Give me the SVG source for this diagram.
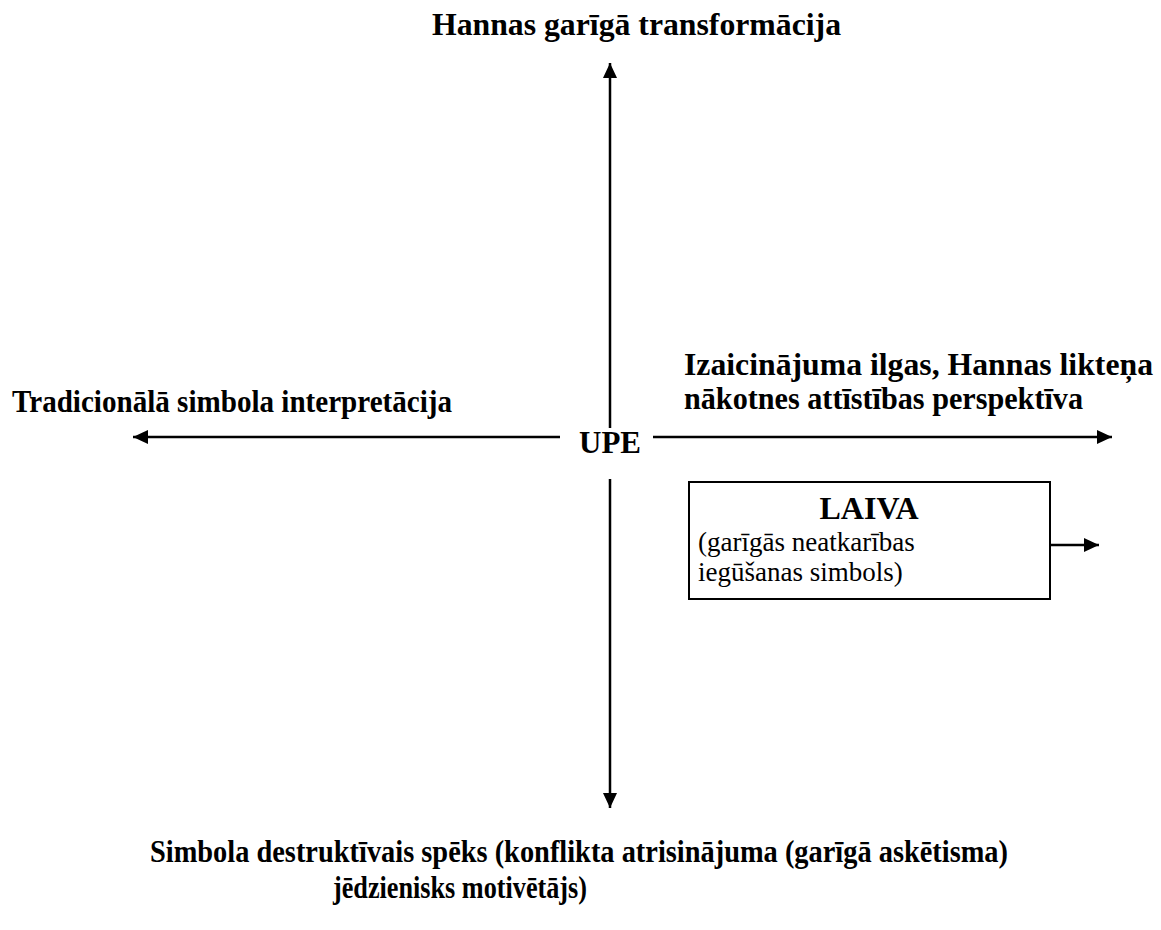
<svg xmlns="http://www.w3.org/2000/svg" width="1161" height="930" viewBox="0 0 1161 930">
<style>
.b{font-family:"Liberation Serif","Times New Roman",serif;font-weight:bold;font-size:32px;fill:#000}
.n{font-family:"Liberation Serif","Times New Roman",serif;font-size:27px;fill:#000}
.ln{stroke:#000;stroke-width:2.5;fill:none}
</style>
<defs>
<marker id="ah" markerWidth="15" markerHeight="14" refX="15" refY="7" orient="auto" markerUnits="userSpaceOnUse"><path d="M0,0 L15,7 L0,14 Z" fill="#000"/></marker>
</defs>
<rect width="1161" height="930" fill="#fff"/>
<g id="connectors">
<line class="ln" x1="610" y1="428" x2="610" y2="63" marker-end="url(#ah)"/>
<line class="ln" x1="610" y1="479" x2="610" y2="808" marker-end="url(#ah)"/>
<line class="ln" x1="560" y1="437" x2="133" y2="437" marker-end="url(#ah)"/>
<line class="ln" x1="653" y1="437" x2="1112" y2="437" marker-end="url(#ah)"/>
<line class="ln" x1="1050" y1="545" x2="1099" y2="545" marker-end="url(#ah)"/>
</g>
<g id="top"><text class="b" x="432" y="35" textLength="409" lengthAdjust="spacingAndGlyphs">Hannas garīgā transformācija</text></g>
<g id="left"><text class="b" x="12" y="412" textLength="440" lengthAdjust="spacingAndGlyphs">Tradicionālā simbola interpretācija</text></g>
<g id="right">
<text class="b" x="684" y="375" textLength="469" lengthAdjust="spacingAndGlyphs">Izaicinājuma ilgas, Hannas likteņa</text>
<text class="b" x="684" y="409" textLength="399" lengthAdjust="spacingAndGlyphs">nākotnes attīstības perspektīva</text>
</g>
<g id="center"><text class="b" x="579" y="453" textLength="62" lengthAdjust="spacingAndGlyphs">UPE</text></g>
<g id="laiva">
<rect x="689" y="482" width="361" height="117" fill="#fff" stroke="#000" stroke-width="2"/>
<text class="b" x="869" y="519" text-anchor="middle" font-size="26">LAIVA</text>
<text class="n" x="698" y="551">(garīgās neatkarības</text>
<text class="n" x="698" y="581">iegūšanas simbols)</text>
</g>
<g id="bottom">
<text class="b" x="150" y="862" textLength="858" lengthAdjust="spacingAndGlyphs">Simbola destruktīvais spēks (konflikta atrisinājuma (garīgā askētisma)</text>
<text class="b" x="333" y="898" textLength="254" lengthAdjust="spacingAndGlyphs">jēdzienisks motivētājs)</text>
</g>
</svg>
